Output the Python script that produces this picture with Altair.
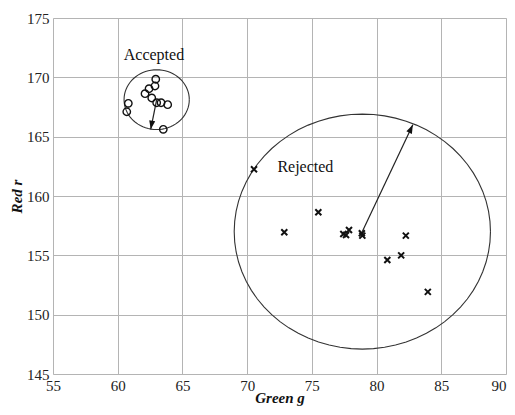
import altair as alt
import numpy as np
import pandas as pd

# Accepted samples (circles)
acc_g = [62.94, 62.88, 62.42, 62.11, 62.63, 63.01, 63.35, 63.86, 60.82, 60.70, 63.52]
acc_r = [169.84, 169.27, 169.04, 168.62, 168.26, 167.86, 167.86, 167.70, 167.81, 167.10, 165.62]

# Rejected samples (crosses)
rej_g = [70.53, 75.50, 72.87, 77.43, 77.87, 77.64, 78.86, 78.90, 82.26, 80.83, 81.90, 83.96]
rej_r = [162.25, 158.63, 156.94, 156.80, 157.14, 156.72, 156.86, 156.66, 156.66, 154.61, 155.00, 151.92]

# Decision circles (center, radius) and radius arrows
circle_names = ["Accepted", "Rejected"]
circle_cg = [63.01, 78.90]
circle_cr = [168.12, 157.00]
circle_rad = [2.52, 9.90]
arrow_end_g = [62.55, 82.80]
arrow_end_r = [165.62, 166.00]
arrow_angle = [190, 25]

# Text labels
label_text = ["Accepted", "Rejected"]
label_g = [62.80, 74.50]
label_r = [171.90, 162.45]

x_ticks = [55, 60, 65, 70, 75, 80, 85, 90]
y_ticks = [145, 150, 155, 160, 165, 170, 175]

FONT = "Liberation Serif"

acc_df = pd.DataFrame({"g": acc_g, "r": acc_r})
rej_df = pd.DataFrame({"g": rej_g, "r": rej_r})

rows = []
t = np.linspace(0, 2 * np.pi, 73)
for name, cg, cr, rad in zip(circle_names, circle_cg, circle_cr, circle_rad):
    for i, a in enumerate(t):
        rows.append({"name": name, "i": i, "g": cg + rad * np.cos(a), "r": cr + rad * np.sin(a)})
circ_df = pd.DataFrame(rows)

arrow_df = pd.DataFrame({
    "name": circle_names, "g": circle_cg, "r": circle_cr,
    "g2": arrow_end_g, "r2": arrow_end_r, "angle": arrow_angle,
})
label_df = pd.DataFrame({"text": label_text, "g": label_g, "r": label_r})

xs = alt.Scale(domain=[55, 90], nice=False, zero=False)
ys = alt.Scale(domain=[145, 175], nice=False, zero=False)

xax = alt.Axis(values=x_ticks, title="Green g", grid=True, gridColor="#b4b4b4", gridWidth=1,
               ticks=False, domain=False, labelFont=FONT, labelFontSize=15, labelColor="#222",
               labelPadding=4, titleFont=FONT, titleFontSize=15, titleFontStyle="italic",
               titleFontWeight="bold", titleColor="#111", titleBaseline="alphabetic", titleY=28,
               labelFlush=False,
               labelAlign=alt.ExprRef(expr="datum.value == 90 ? 'right' : 'center'"))
yax = alt.Axis(values=y_ticks, title="Red r", grid=True, gridColor="#b4b4b4", gridWidth=1,
               ticks=False, domain=False, labelFont=FONT, labelFontSize=15, labelColor="#222",
               labelPadding=4, titleFont=FONT, titleFontSize=15, titleFontStyle="italic",
               titleFontWeight="bold", titleColor="#111", titlePadding=2, labelFlush=False)

base_x = alt.X("g:Q", scale=xs, axis=xax)
base_y = alt.Y("r:Q", scale=ys, axis=yax)

circles = alt.Chart(circ_df).mark_line(color="#333", strokeWidth=1.1).encode(
    x=base_x, y=base_y, detail="name:N", order="i:Q")

acc = alt.Chart(acc_df).mark_point(shape="circle", filled=False, color="#111",
                                   size=55, strokeWidth=1.4, opacity=1).encode(x=base_x, y=base_y)

rej = alt.Chart(rej_df).mark_point(shape="M-1,-1L1,1M-1,1L1,-1", filled=False, color="#111",
                                   size=36, strokeWidth=2.0, opacity=1).encode(x=base_x, y=base_y)

arrow_line = alt.Chart(arrow_df).mark_rule(color="#222", strokeWidth=1.2).encode(
    x=base_x, y=base_y, x2="g2:Q", y2="r2:Q")

arrow_head = alt.Chart(arrow_df).mark_point(shape="M0,0L-0.35,1L0.35,1Z", filled=True,
                                            color="#111", size=300, opacity=1).encode(
    x=alt.X("g2:Q", scale=xs, axis=xax), y=alt.Y("r2:Q", scale=ys, axis=yax),
    angle=alt.Angle("angle:Q", scale=None))

labels = alt.Chart(label_df).mark_text(font=FONT, fontSize=16, color="#111",
                                       align="center", baseline="middle").encode(
    x=base_x, y=base_y, text="text:N")

chart = alt.layer(circles, arrow_line, arrow_head, acc, rej, labels).properties(
    width=453, height=356,
    autosize=alt.AutoSizeParams(type="none"),
    padding={"left": 45, "top": 10, "right": 1, "bottom": 33},
).configure_view(stroke="#444", strokeWidth=1.3).configure(background="white")

chart.save("out.html", embed_options={"renderer": "svg", "actions": False})
